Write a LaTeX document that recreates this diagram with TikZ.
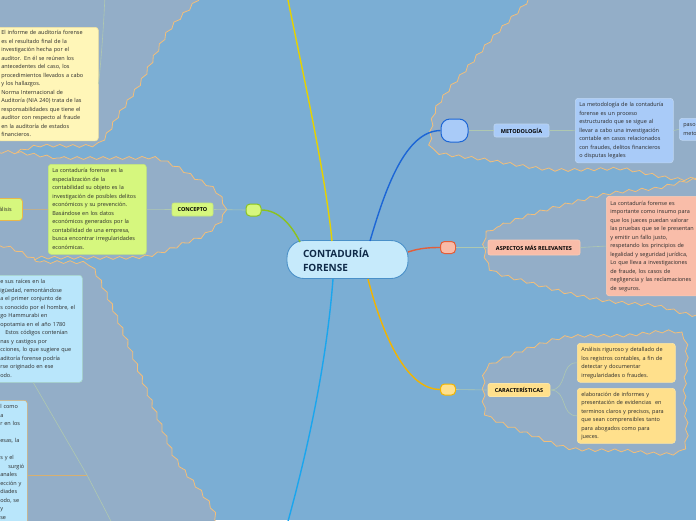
\documentclass[tikz,border=0pt]{standalone}
\usepackage{fontspec}
\setmainfont{Open Sans}
\usetikzlibrary{decorations.pathmorphing,calc}
\definecolor{bg}{HTML}{7BAED4}
\definecolor{cloudfill}{HTML}{93AEC8}
\definecolor{cloudline}{HTML}{F2BE7A}
\definecolor{thinc}{HTML}{AFC8B0}
\definecolor{tanc}{HTML}{D8B070}
\definecolor{txt}{HTML}{2B2B2B}
\definecolor{yelbox}{HTML}{FFF6B8}
\definecolor{yelbord}{HTML}{F3E3A0}
\definecolor{limebox}{HTML}{D6F77E}
\definecolor{limebord}{HTML}{C5E87A}
\definecolor{cyanbox}{HTML}{B9E6FB}
\definecolor{cyanbord}{HTML}{A8D8C8}
\definecolor{bluebox}{HTML}{A9CBF8}
\definecolor{bluebord}{HTML}{BED6F2}
\definecolor{salbox}{HTML}{F9BDA9}
\definecolor{salhub}{HTML}{F9BBA8}
\definecolor{salbord}{HTML}{F8CDB8}
\definecolor{goldbox}{HTML}{FFE08C}
\definecolor{goldbord}{HTML}{FDE6A6}
\definecolor{goldline}{HTML}{E8B84A}
\definecolor{greenl}{HTML}{8CC21E}
\definecolor{yell}{HTML}{E6D200}
\definecolor{bluel}{HTML}{1C66D6}
\definecolor{redl}{HTML}{E25E3A}
\definecolor{orl}{HTML}{F2B400}
\definecolor{lbl}{HTML}{1AA6EE}
\definecolor{navy}{HTML}{0F2A48}
\definecolor{centfill}{HTML}{C6EAFB}
\definecolor{centbord}{HTML}{4A90C8}
\newcommand\mytab[1]{\noindent\begin{tabular}{@{}l@{}}#1\end{tabular}}
\begin{document}
\begin{tikzpicture}[x=1pt,y=-1pt,
  cloud/.style={fill=cloudfill, draw=cloudline, line width=0.8pt, decorate,
    decoration={snake, amplitude=1.4pt, segment length=13pt}},
  txtbox/.style={rounded corners=3pt, draw, line width=0.6pt, inner xsep=4pt,
    inner ysep=2.5pt, anchor=north west, align=left,
    font=\fontsize{5.5}{8.5}\selectfont, text=txt},
  lab/.style={rounded corners=2pt, draw, line width=0.6pt, inner sep=0pt,
    font=\fontsize{5.5}{7}\selectfont\bfseries, text=black},
  hub/.style={draw, line width=1pt, inner sep=0pt},
  thinline/.style={draw=thinc, line width=0.6pt},
  branch/.style={line width=1.4pt}]
\useasboundingbox (0,0) rectangle (696,520);
\clip (0,0) rectangle (696,520);
\fill[bg] (0,0) rectangle (696,520);

% clouds
\path[cloud] plot[smooth cycle] coordinates {(-20,-20) (200,-20) (197,0) (167,33) (140,83) (117,117) (103,140) (90,147) (40,147) (-20,147)};
\path[cloud] plot[smooth cycle] coordinates {(-20,158) (60,158) (130,158) (152,158) (172,166) (192,178) (212,190) (222,207) (217,222) (200,236) (180,244) (160,252) (130,258) (40,258) (-20,258)};
\path[cloud] plot[smooth cycle] coordinates {(-20,262) (40,262) (82,263) (92,272) (108,305) (125,345) (143,390) (170,455) (205,530) (-20,530)};
\path[cloud] plot[smooth cycle] coordinates {(540,-20) (528,0) (514,15) (493,37) (467,68) (450,88) (437,108) (433,130) (437,149) (487,157) (553,167) (620,166) (710,165) (710,-20)};
\path[cloud] plot[smooth cycle] coordinates {(483,235) (500,226) (530,215) (565,205) (605,195) (650,190) (710,188) (710,310) (650,306) (605,302) (565,294) (525,283) (490,272) (482,255)};
\path[cloud] plot[smooth cycle] coordinates {(483,370) (500,360) (530,348) (565,338) (620,337) (680,336) (682,395) (680,452) (620,452) (568,450) (530,437) (500,425) (483,415) (481,393)};

% central node
\node[draw=centbord, fill=centfill, line width=0.9pt, rounded corners=17pt,
  text width=89pt, inner xsep=16pt, inner ysep=0pt, minimum height=38pt,
  align=left, font=\fontsize{10}{14}\selectfont\bfseries, text=navy]
  (center) at (347.5,259.5) {CONTADURÍA\\FORENSE};
\coordinate (cG) at (300,242);
\coordinate (cY) at (332,241);
\coordinate (cB) at (370,241);
\coordinate (cR) at (408,252);
\coordinate (cO) at (368,279);
\coordinate (cL) at (333,279);
\coordinate (yTop) at (287,-5);
\coordinate (lbEnd) at (287,525);

% hubs
\node[hub, rounded corners=9pt, fill=bluebox, draw=bluel, minimum width=27pt, minimum height=23pt] (metH) at (454.5,130.5) {};
\node[hub, rounded corners=4pt, fill=salhub, draw=redl, minimum width=15pt, minimum height=12pt] (aspH) at (448,247.5) {};
\node[hub, rounded corners=4pt, fill=goldbox, draw=orl, minimum width=15pt, minimum height=11pt] (carH) at (448,389.5) {};
\node[hub, rounded corners=4pt, fill=limebox, draw=greenl, minimum width=15pt, minimum height=12pt] (conH) at (253.5,210) {};

% main branches
\draw[branch, greenl] (conH.east) .. controls (278,210) and (291,224) .. (cG);
\draw[branch, yell] (yTop) .. controls (300,60) and (325,170) .. (cY);
\draw[branch, bluel] (cB) .. controls (385,190) and (405,131) .. (metH.west);
\draw[branch, redl] (cR) .. controls (420,248) and (430,247.5) .. (aspH.west);
\draw[branch, orl] (cO) .. controls (385,345) and (410,389.5) .. (carH.west);
\draw[branch, lbl] (cL) .. controls (326,370) and (305,460) .. (lbEnd);

% labels
\node[lab, fill=limebox, draw=limebord, minimum width=41pt, minimum height=13pt] (conL) at (192.5,209.5) {CONCEPTO};
\node[lab, fill=bluebox, draw=bluebord, minimum width=55pt, minimum height=13pt] (metL) at (521.5,130.5) {METODOLOGÍA};
\node[lab, fill=salbox, draw=salbord, minimum width=92pt, minimum height=15pt] (aspL) at (534,247.5) {ASPECTOS MÁS RELEVANTES};
\node[lab, fill=goldbox, draw=goldbord, minimum width=62pt, minimum height=13pt] (carL) at (519,390) {CARACTERÍSTICAS};

% text boxes
\node[txtbox, fill=yelbox, draw=yelbord, text width=93pt, inner ysep=1.5pt] (inf) at (-3,27) {\mytab{%
El informe de auditoría forense\\
es el resultado final de la\\
investigación hecha por el\\
auditor. En él se reúnen los\\
antecedentes del caso, los\\
procedimientos llevados a cabo\\
y los hallazgos.\\
Norma Internacional de\\
Auditoría (NIA 240) trata de las\\
responsabilidades que tiene el\\
auditor con respecto al fraude\\
en la auditoría de estados\\
financieros.}};

\node[txtbox, fill=limebox, draw=limebord, text width=90pt] (cbox) at (48,164) {\mytab{%
La contaduría forense es la\\
especialización de la\\
contabilidad su objeto es la\\
investigación de posibles delitos\\
económicos y su prevención.\\
Basándose en los datos\\
económicos generados por la\\
contabilidad de una empresa,\\
busca encontrar irregularidades\\
económicas.}};

\node[rounded corners=3pt, draw=goldline, line width=0.8pt, fill=limebox, minimum width=34pt,
  minimum height=22pt, inner sep=0pt, font=\fontsize{5.5}{7}\selectfont, text=txt, anchor=north west]
  (alis) at (-12,198) {álisis};

\node[txtbox, fill=cyanbox, draw=cyanbord, text width=78pt] (mid) at (-4,275) {\mytab{%
e sus raíces en la\\
igüedad, remontándose\\
a el primer conjunto de\\
s conocido por el hombre, el\\
go Hammurabi en\\
opotamia en el año 1780\\
\hspace*{5pt}Estos códigos contenían\\
nas y castigos por\\
cciones, lo que sugiere que\\
aditoría forense podría\\
rse originado en ese\\
odo.}};

\node[txtbox, fill=cyanbox, draw=tanc, text width=23pt] (bot) at (-4,400) {\mytab{%
l como\\
a\\
r en los\\
\mbox{}\\
esas, la\\
\mbox{}\\
s y el\\
\hspace*{8pt}surgió\\
anales\\
ección y\\
diades\\
odo, se\\
y\\
se}};

\node[txtbox, fill=bluebox, draw=bluebord, text width=90pt] (mtxt) at (575,98) {\mytab{%
La metodología de la contaduría\\
forense es un proceso\\
estructurado que se sigue al\\
llevar a cabo una investigación\\
contable en casos relacionados\\
con fraudes, delitos financieros\\
o disputas legales}};

\node[txtbox, fill=bluebox, draw=bluebord, text width=25pt] (paso) at (679,118) {\mytab{paso\\meto}};

\node[txtbox, fill=salbox, draw=salbord, text width=100pt, inner ysep=3pt] (atxt) at (606,196) {\mytab{%
La contaduría forense es\\
importante como insumo para\\
que los jueces puedan valorar\\
las pruebas que se le presentan\\
y emitir un fallo justo,\\
respetando los principios de\\
legalidad y seguridad jurídica,\\
Lo que lleva a investigaciones\\
de fraude, los casos de\\
negligencia y las reclamaciones\\
de seguros.}};

\node[txtbox, fill=goldbox, draw=goldbord, text width=90pt] (cb1) at (577,343) {\mytab{%
Análisis riguroso y detallado de\\
los registros contables, a fin de\\
detectar y documentar\\
irregularidades o fraudes.}};

\node[txtbox, fill=goldbox, draw=goldbord, text width=90pt, inner ysep=2pt] (cb2) at (577,388) {\mytab{%
elaboración de informes y\\
presentación de evidencias \ en\\
terminos claros y precisos, para\\
que sean comprensibles tanto\\
para abogados como para\\
jueces.}};

% thin connectors
\coordinate (infTop) at (105,-5);
\draw[thinline] (infTop) .. controls (103,40) and (100,70) .. (inf.east);
\draw[draw=tanc, line width=0.6pt] (alis.east) -- (cbox.west);
\draw[thinline] (cbox.east) -- (conL.west);
\draw[thinline] (conL.east) -- (conH.west);
\draw[thinline] (metH.east) -- (metL.west);
\draw[thinline] (metL.east) -- (mtxt.west);
\draw[thinline] (mtxt.east) -- (paso.west);
\draw[thinline] (aspH.east) -- (aspL.west);
\draw[thinline] (aspL.east) -- (atxt.west);
\draw[thinline] (carH.east) -- (carL.west);
\draw[thinline] (carL.east) .. controls (568,390) and (560,362) .. (cb1.west);
\draw[thinline] (carL.east) .. controls (568,390) and (560,416) .. (cb2.west);
\coordinate (jn) at (87,475);
\coordinate (diagEnd) at (113,525);
\draw[thinline] ($(mid.south)+(-6,0)$) -- (jn) -- (diagEnd);
\draw[draw=tanc, line width=0.8pt] (jn) -- (bot.east |- jn);
\end{tikzpicture}
\end{document}
